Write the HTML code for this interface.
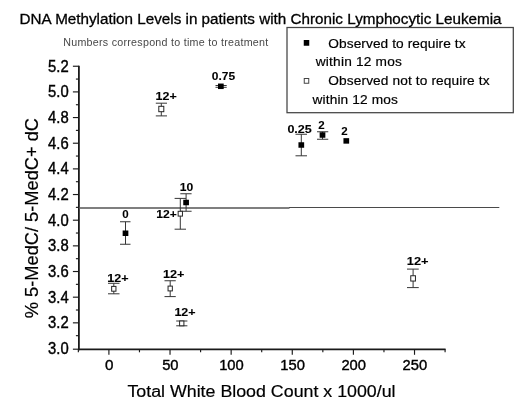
<!DOCTYPE html>
<html><head><meta charset="utf-8"><title>DNA Methylation Levels</title>
<style>
html,body{margin:0;padding:0;background:#fff;}
body{width:520px;height:407px;overflow:hidden;font-family:"Liberation Sans",sans-serif;}
svg{display:block;will-change:transform;font-family:"Liberation Sans",sans-serif;}
</style></head>
<body>
<svg width="520" height="407" viewBox="0 0 520 407">
<rect width="520" height="407" fill="#fff"/>
<g stroke="#1a1a1a" stroke-width="1.8" fill="none" stroke-linecap="butt">
<path d="M78.9 65.64V350.15000000000003"/>
<path d="M78.05000000000001 349.3H445.6"/>
</g>
<g stroke="#1a1a1a" stroke-width="1.15" fill="none">
<path d="M72.9 349.20H78.9"/>
<path d="M75.9 335.67H78.9"/>
<path d="M72.9 322.84H78.9"/>
<path d="M75.9 310.01H78.9"/>
<path d="M72.9 297.18H78.9"/>
<path d="M75.9 284.35H78.9"/>
<path d="M72.9 271.52H78.9"/>
<path d="M75.9 258.69H78.9"/>
<path d="M72.9 245.86H78.9"/>
<path d="M75.9 233.03H78.9"/>
<path d="M72.9 220.20H78.9"/>
<path d="M75.9 207.37H78.9"/>
<path d="M72.9 194.54H78.9"/>
<path d="M75.9 181.71H78.9"/>
<path d="M72.9 168.88H78.9"/>
<path d="M75.9 156.05H78.9"/>
<path d="M72.9 143.22H78.9"/>
<path d="M75.9 130.39H78.9"/>
<path d="M72.9 117.56H78.9"/>
<path d="M75.9 104.73H78.9"/>
<path d="M72.9 91.90H78.9"/>
<path d="M75.9 79.07H78.9"/>
<path d="M72.9 66.24H78.9"/>
<path d="M78.34 349.3V352.3"/>
<path d="M108.90 349.3V354.8"/>
<path d="M139.46 349.3V352.3"/>
<path d="M170.03 349.3V354.8"/>
<path d="M200.59 349.3V352.3"/>
<path d="M231.15 349.3V354.8"/>
<path d="M261.71 349.3V352.3"/>
<path d="M292.27 349.3V354.8"/>
<path d="M322.84 349.3V352.3"/>
<path d="M353.40 349.3V354.8"/>
<path d="M383.96 349.3V352.3"/>
<path d="M414.52 349.3V354.8"/>
<path d="M445.09 349.3V352.3"/>
</g>
<path d="M78.9 208H289.5" stroke="#555" stroke-width="1.5" fill="none"/>
<path d="M289 207.5H499.3" stroke="#4a4a4a" stroke-width="1" fill="none"/>
<g font-size="15.6" fill="#000" stroke="#000" stroke-width="0.4" text-anchor="end">
<text x="68.7" y="353.95" textLength="20.6" lengthAdjust="spacingAndGlyphs">3.0</text>
<text x="68.7" y="328.29" textLength="20.6" lengthAdjust="spacingAndGlyphs">3.2</text>
<text x="68.7" y="302.63" textLength="20.6" lengthAdjust="spacingAndGlyphs">3.4</text>
<text x="68.7" y="276.97" textLength="20.6" lengthAdjust="spacingAndGlyphs">3.6</text>
<text x="68.7" y="251.31" textLength="20.6" lengthAdjust="spacingAndGlyphs">3.8</text>
<text x="68.7" y="225.65" textLength="20.6" lengthAdjust="spacingAndGlyphs">4.0</text>
<text x="68.7" y="199.99" textLength="20.6" lengthAdjust="spacingAndGlyphs">4.2</text>
<text x="68.7" y="174.33" textLength="20.6" lengthAdjust="spacingAndGlyphs">4.4</text>
<text x="68.7" y="148.67" textLength="20.6" lengthAdjust="spacingAndGlyphs">4.6</text>
<text x="68.7" y="123.01" textLength="20.6" lengthAdjust="spacingAndGlyphs">4.8</text>
<text x="68.7" y="97.35" textLength="20.6" lengthAdjust="spacingAndGlyphs">5.0</text>
<text x="68.7" y="71.69" textLength="20.6" lengthAdjust="spacingAndGlyphs">5.2</text>
</g>
<g font-size="15.2" fill="#000" stroke="#000" stroke-width="0.4" text-anchor="middle">
<text x="109.20" y="370">0</text>
<text x="170.33" y="370" textLength="16.4" lengthAdjust="spacingAndGlyphs">50</text>
<text x="231.45" y="370" textLength="24.6" lengthAdjust="spacingAndGlyphs">100</text>
<text x="292.57" y="370" textLength="24.6" lengthAdjust="spacingAndGlyphs">150</text>
<text x="353.70" y="370" textLength="24.6" lengthAdjust="spacingAndGlyphs">200</text>
<text x="414.82" y="370" textLength="24.6" lengthAdjust="spacingAndGlyphs">250</text>
</g>
<text x="19.6" y="24.3" font-size="15.3" textLength="482" lengthAdjust="spacingAndGlyphs" fill="#000" stroke="#000" stroke-width="0.3">DNA Methylation Levels in patients with Chronic Lymphocytic Leukemia</text>
<text x="63.2" y="46" font-size="10.7" textLength="205" lengthAdjust="spacing" fill="#484848">Numbers correspond to time to treatment</text>
<text x="127.4" y="396.9" font-size="17.3" textLength="268.2" lengthAdjust="spacingAndGlyphs" fill="#000" stroke="#000" stroke-width="0.2">Total White Blood Count x 1000/ul</text>
<text transform="translate(38.3 318.2) rotate(-90)" font-size="18" textLength="200.2" lengthAdjust="spacingAndGlyphs" fill="#000" stroke="#000" stroke-width="0.2">% 5-MedC/ 5-MedC+ dC</text>
<rect x="287" y="27.5" width="226.3" height="85.2" fill="#fff" stroke="#444" stroke-width="1.25"/>
<rect x="303.75" y="40" width="5.5" height="5.75" fill="#000"/>
<rect x="304.25" y="78.5" width="4.5" height="4.75" fill="#fff" stroke="#444" stroke-width="1"/>
<g font-size="13.7" fill="#000" stroke="#000" stroke-width="0.2">
<text x="328.3" y="47.8" textLength="137.2" lengthAdjust="spacing">Observed to require tx</text>
<text x="315.8" y="65.8" textLength="86" lengthAdjust="spacing">within 12 mos</text>
<text x="328.3" y="85" textLength="161.2" lengthAdjust="spacing">Observed not to require tx</text>
<text x="312.5" y="103.8" textLength="85.3" lengthAdjust="spacing">within 12 mos</text>
</g>
<path d="M125.5 221.75V244.25M120 221.75H130.5M120 244.25H130.5" stroke="#363636" stroke-width="1" fill="none"/>
<rect x="122.65" y="230.50" width="5.7" height="5.5" fill="#000"/>
<text x="125.50" y="217.5" font-size="11.5" font-weight="bold" text-anchor="middle" fill="#000" stroke="#000" stroke-width="0.1">0</text>
<path d="M186.1 193.75V211.25M180.3 193.75H191.6M180.3 211.25H191.6" stroke="#363636" stroke-width="1" fill="none"/>
<rect x="183.25" y="199.75" width="5.7" height="5.5" fill="#000"/>
<text x="179.80" y="190.9" font-size="11.5" font-weight="bold" textLength="13.50" lengthAdjust="spacingAndGlyphs" fill="#000" stroke="#000" stroke-width="0.1">10</text>
<path d="M180.3 198.4V229.2M174.6 198.4H186M174.6 229.2H186" stroke="#363636" stroke-width="1" fill="none"/>
<rect x="178.15" y="211.30" width="4.3" height="4.8" fill="#fff" stroke="#262626" stroke-width="1"/>
<text x="156.30" y="217.9" font-size="11.5" font-weight="bold" textLength="20.50" lengthAdjust="spacingAndGlyphs" fill="#000" stroke="#000" stroke-width="0.1">12+</text>
<path d="M161.3 103.2V115.9M155.8 103.2H167M155.8 115.9H167" stroke="#363636" stroke-width="1" fill="none"/>
<rect x="158.80" y="106.30" width="5.0" height="5.4" fill="#fff" stroke="#262626" stroke-width="1"/>
<text x="155.50" y="100.2" font-size="11.5" font-weight="bold" textLength="21.20" lengthAdjust="spacingAndGlyphs" fill="#000" stroke="#000" stroke-width="0.1">12+</text>
<path d="M220.85 85.5V87.3M215.5 85.5H226.7M215.5 87.3H226.7" stroke="#363636" stroke-width="1" fill="none"/>
<rect x="218.00" y="83.55" width="5.7" height="5.5" fill="#000"/>
<text x="211.80" y="80.4" font-size="11.5" font-weight="bold" textLength="23.30" lengthAdjust="spacingAndGlyphs" fill="#000" stroke="#000" stroke-width="0.1">0.75</text>
<path d="M301.3 134.25V155.8M295.5 134.25H307M295.5 155.8H307" stroke="#363636" stroke-width="1" fill="none"/>
<rect x="298.45" y="142.25" width="5.7" height="5.5" fill="#000"/>
<text x="287.40" y="132.8" font-size="11.5" font-weight="bold" textLength="24.40" lengthAdjust="spacingAndGlyphs" fill="#000" stroke="#000" stroke-width="0.1">0.25</text>
<path d="M322.5 131.75V139.25M317 131.75H328.25M317 139.25H328.25" stroke="#363636" stroke-width="1" fill="none"/>
<rect x="319.65" y="132.25" width="5.7" height="5.5" fill="#000"/>
<text x="321.50" y="129.25" font-size="11.5" font-weight="bold" text-anchor="middle" fill="#000" stroke="#000" stroke-width="0.1">2</text>
<rect x="343.45" y="138.15" width="5.7" height="5.5" fill="#000"/>
<text x="344.48" y="135.2" font-size="11.5" font-weight="bold" text-anchor="middle" fill="#000" stroke="#000" stroke-width="0.1">2</text>
<path d="M413.1 269.1V287.6M407 269.1H418.75M407 287.6H418.75" stroke="#363636" stroke-width="1" fill="none"/>
<rect x="410.75" y="275.75" width="4.7" height="5.3" fill="#fff" stroke="#262626" stroke-width="1"/>
<text x="406.80" y="264.9" font-size="11.5" font-weight="bold" textLength="21.80" lengthAdjust="spacingAndGlyphs" fill="#000" stroke="#000" stroke-width="0.1">12+</text>
<path d="M113.8 283.3V293.8M108 283.3H119.5M108 293.8H119.5" stroke="#363636" stroke-width="1" fill="none"/>
<rect x="111.65" y="286.40" width="4.3" height="4.8" fill="#fff" stroke="#262626" stroke-width="1"/>
<text x="107.20" y="281.5" font-size="11.5" font-weight="bold" textLength="21.30" lengthAdjust="spacingAndGlyphs" fill="#000" stroke="#000" stroke-width="0.1">12+</text>
<path d="M170.2 280.75V296.6M164.5 280.75H175.75M164.5 296.6H175.75" stroke="#363636" stroke-width="1" fill="none"/>
<rect x="168.05" y="286.10" width="4.3" height="4.8" fill="#fff" stroke="#262626" stroke-width="1"/>
<text x="163.00" y="277.8" font-size="11.5" font-weight="bold" textLength="21.50" lengthAdjust="spacingAndGlyphs" fill="#000" stroke="#000" stroke-width="0.1">12+</text>
<path d="M181.75 321V325.8M176.2 321H187.4M176.2 325.8H187.4" stroke="#363636" stroke-width="1" fill="none"/>
<rect x="179.60" y="321.00" width="4.3" height="4.8" fill="#fff" stroke="#262626" stroke-width="1"/>
<text x="174.40" y="316.3" font-size="11.5" font-weight="bold" textLength="21.20" lengthAdjust="spacingAndGlyphs" fill="#000" stroke="#000" stroke-width="0.1">12+</text>
</svg>
</body></html>
